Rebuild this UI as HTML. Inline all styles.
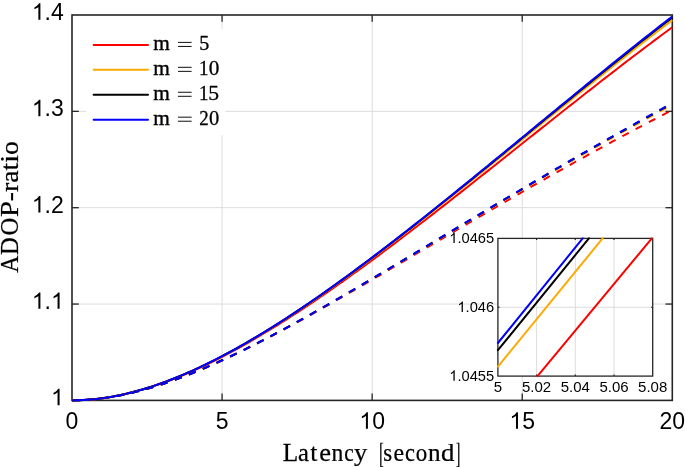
<!DOCTYPE html><html><head><meta charset="utf-8"><style>html,body{margin:0;padding:0;background:#fff;}svg{display:block;will-change:transform;}</style></head><body>
<svg width="685" height="467" viewBox="0 0 685 467">
<rect x="0" y="0" width="685" height="467" fill="#fff"/>
<line x1="222.07" y1="15.00" x2="222.07" y2="400.40" stroke="#dcdcdc" stroke-width="1"/>
<line x1="372.15" y1="15.00" x2="372.15" y2="400.40" stroke="#dcdcdc" stroke-width="1"/>
<line x1="522.22" y1="15.00" x2="522.22" y2="400.40" stroke="#dcdcdc" stroke-width="1"/>
<line x1="72.00" y1="304.05" x2="672.30" y2="304.05" stroke="#dcdcdc" stroke-width="1"/>
<line x1="72.00" y1="207.70" x2="672.30" y2="207.70" stroke="#dcdcdc" stroke-width="1"/>
<line x1="72.00" y1="111.35" x2="672.30" y2="111.35" stroke="#dcdcdc" stroke-width="1"/>
<line x1="222.07" y1="400.40" x2="222.07" y2="393.60" stroke="#262626" stroke-width="1.3"/>
<line x1="222.07" y1="15.00" x2="222.07" y2="21.80" stroke="#262626" stroke-width="1.3"/>
<line x1="372.15" y1="400.40" x2="372.15" y2="393.60" stroke="#262626" stroke-width="1.3"/>
<line x1="372.15" y1="15.00" x2="372.15" y2="21.80" stroke="#262626" stroke-width="1.3"/>
<line x1="522.22" y1="400.40" x2="522.22" y2="393.60" stroke="#262626" stroke-width="1.3"/>
<line x1="522.22" y1="15.00" x2="522.22" y2="21.80" stroke="#262626" stroke-width="1.3"/>
<line x1="72.00" y1="304.05" x2="78.80" y2="304.05" stroke="#262626" stroke-width="1.3"/>
<line x1="672.30" y1="304.05" x2="665.50" y2="304.05" stroke="#262626" stroke-width="1.3"/>
<line x1="72.00" y1="207.70" x2="78.80" y2="207.70" stroke="#262626" stroke-width="1.3"/>
<line x1="672.30" y1="207.70" x2="665.50" y2="207.70" stroke="#262626" stroke-width="1.3"/>
<line x1="72.00" y1="111.35" x2="78.80" y2="111.35" stroke="#262626" stroke-width="1.3"/>
<line x1="672.30" y1="111.35" x2="665.50" y2="111.35" stroke="#262626" stroke-width="1.3"/>
<rect x="72.00" y="15.00" width="600.30" height="385.40" fill="none" stroke="#262626" stroke-width="1.6"/>
<path d="M72.00,400.40 L75.75,400.37 L79.50,400.26 L83.26,400.10 L87.01,399.87 L90.76,399.57 L94.51,399.21 L98.26,398.79 L102.02,398.31 L105.77,397.77 L109.52,397.17 L113.27,396.52 L117.02,395.80 L120.77,395.04 L124.53,394.22 L128.28,393.34 L132.03,392.41 L135.78,391.44 L139.53,390.41 L143.29,389.33 L147.04,388.20 L150.79,387.03 L154.54,385.81 L158.29,384.54 L162.04,383.23 L165.80,381.88 L169.55,380.48 L173.30,379.04 L177.05,377.56 L180.80,376.04 L184.56,374.47 L188.31,372.87 L192.06,371.23 L195.81,369.56 L199.56,367.84 L203.32,366.09 L207.07,364.31 L210.82,362.49 L214.57,360.63 L218.32,358.74 L222.07,356.83 L225.83,354.87 L229.58,352.89 L233.33,350.88 L237.08,348.83 L240.83,346.76 L244.59,344.66 L248.34,342.53 L252.09,340.38 L255.84,338.19 L259.59,335.99 L263.35,333.75 L267.10,331.49 L270.85,329.21 L274.60,326.90 L278.35,324.57 L282.11,322.21 L285.86,319.84 L289.61,317.44 L293.36,315.02 L297.11,312.58 L300.86,310.12 L304.62,307.64 L308.37,305.14 L312.12,302.62 L315.87,300.09 L319.62,297.53 L323.38,294.96 L327.13,292.37 L330.88,289.77 L334.63,287.15 L338.38,284.51 L342.13,281.86 L345.89,279.19 L349.64,276.51 L353.39,273.81 L357.14,271.10 L360.89,268.38 L364.65,265.65 L368.40,262.90 L372.15,260.14 L375.90,257.37 L379.65,254.58 L383.41,251.79 L387.16,248.98 L390.91,246.17 L394.66,243.34 L398.41,240.51 L402.16,237.67 L405.92,234.81 L409.67,231.95 L413.42,229.08 L417.17,226.20 L420.92,223.32 L424.68,220.42 L428.43,217.52 L432.18,214.62 L435.93,211.70 L439.68,208.78 L443.44,205.86 L447.19,202.93 L450.94,199.99 L454.69,197.05 L458.44,194.10 L462.19,191.15 L465.95,188.20 L469.70,185.24 L473.45,182.27 L477.20,179.31 L480.95,176.34 L484.71,173.37 L488.46,170.39 L492.21,167.42 L495.96,164.44 L499.71,161.46 L503.47,158.48 L507.22,155.50 L510.97,152.51 L514.72,149.53 L518.47,146.54 L522.22,143.56 L525.98,140.57 L529.73,137.59 L533.48,134.61 L537.23,131.62 L540.98,128.64 L544.74,125.66 L548.49,122.68 L552.24,119.71 L555.99,116.73 L559.74,113.76 L563.50,110.79 L567.25,107.83 L571.00,104.87 L574.75,101.91 L578.50,98.95 L582.25,96.00 L586.01,93.06 L589.76,90.12 L593.51,87.18 L597.26,84.25 L601.01,81.32 L604.77,78.41 L608.52,75.49 L612.27,72.59 L616.02,69.69 L619.77,66.80 L623.53,63.91 L627.28,61.03 L631.03,58.16 L634.78,55.30 L638.53,52.45 L642.28,49.61 L646.04,46.78 L649.79,43.95 L653.54,41.14 L657.29,38.34 L661.04,35.55 L664.80,32.77 L668.55,30.00 L672.30,27.24" fill="none" stroke="#ff0000" stroke-width="2" stroke-linejoin="round"/>
<path d="M72.00,400.40 L75.75,400.37 L79.50,400.26 L83.26,400.09 L87.01,399.86 L90.76,399.56 L94.51,399.20 L98.26,398.77 L102.02,398.29 L105.77,397.74 L109.52,397.14 L113.27,396.47 L117.02,395.76 L120.77,394.98 L124.53,394.15 L128.28,393.27 L132.03,392.33 L135.78,391.34 L139.53,390.30 L143.29,389.21 L147.04,388.07 L150.79,386.89 L154.54,385.65 L158.29,384.37 L162.04,383.05 L165.80,381.68 L169.55,380.26 L173.30,378.81 L177.05,377.31 L180.80,375.77 L184.56,374.19 L188.31,372.57 L192.06,370.91 L195.81,369.21 L199.56,367.48 L203.32,365.70 L207.07,363.90 L210.82,362.05 L214.57,360.18 L218.32,358.27 L222.07,356.32 L225.83,354.35 L229.58,352.34 L233.33,350.30 L237.08,348.23 L240.83,346.13 L244.59,344.01 L248.34,341.85 L252.09,339.67 L255.84,337.45 L259.59,335.22 L263.35,332.95 L267.10,330.66 L270.85,328.35 L274.60,326.01 L278.35,323.64 L282.11,321.26 L285.86,318.85 L289.61,316.42 L293.36,313.96 L297.11,311.49 L300.86,308.99 L304.62,306.48 L308.37,303.94 L312.12,301.38 L315.87,298.81 L319.62,296.22 L323.38,293.61 L327.13,290.98 L330.88,288.34 L334.63,285.67 L338.38,283.00 L342.13,280.30 L345.89,277.60 L349.64,274.87 L353.39,272.13 L357.14,269.38 L360.89,266.61 L364.65,263.84 L368.40,261.04 L372.15,258.24 L375.90,255.42 L379.65,252.59 L383.41,249.75 L387.16,246.90 L390.91,244.03 L394.66,241.16 L398.41,238.28 L402.16,235.38 L405.92,232.48 L409.67,229.57 L413.42,226.65 L417.17,223.72 L420.92,220.78 L424.68,217.84 L428.43,214.88 L432.18,211.92 L435.93,208.95 L439.68,205.98 L443.44,203.00 L447.19,200.01 L450.94,197.02 L454.69,194.02 L458.44,191.02 L462.19,188.01 L465.95,185.00 L469.70,181.98 L473.45,178.96 L477.20,175.93 L480.95,172.91 L484.71,169.87 L488.46,166.84 L492.21,163.80 L495.96,160.76 L499.71,157.72 L503.47,154.67 L507.22,151.63 L510.97,148.58 L514.72,145.53 L518.47,142.48 L522.22,139.43 L525.98,136.38 L529.73,133.33 L533.48,130.28 L537.23,127.23 L540.98,124.18 L544.74,121.13 L548.49,118.09 L552.24,115.04 L555.99,112.00 L559.74,108.96 L563.50,105.92 L567.25,102.88 L571.00,99.85 L574.75,96.82 L578.50,93.79 L582.25,90.77 L586.01,87.75 L589.76,84.73 L593.51,81.72 L597.26,78.72 L601.01,75.72 L604.77,72.72 L608.52,69.73 L612.27,66.75 L616.02,63.77 L619.77,60.80 L623.53,57.84 L627.28,54.88 L631.03,51.94 L634.78,49.00 L638.53,46.07 L642.28,43.14 L646.04,40.23 L649.79,37.32 L653.54,34.43 L657.29,31.54 L661.04,28.67 L664.80,25.80 L668.55,22.95 L672.30,20.11" fill="none" stroke="#fea900" stroke-width="2" stroke-linejoin="round"/>
<path d="M72.00,400.40 L75.75,400.37 L79.50,400.26 L83.26,400.09 L87.01,399.86 L90.76,399.56 L94.51,399.20 L98.26,398.77 L102.02,398.28 L105.77,397.74 L109.52,397.13 L113.27,396.47 L117.02,395.75 L120.77,394.97 L124.53,394.14 L128.28,393.25 L132.03,392.31 L135.78,391.32 L139.53,390.28 L143.29,389.19 L147.04,388.05 L150.79,386.86 L154.54,385.62 L158.29,384.34 L162.04,383.01 L165.80,381.63 L169.55,380.22 L173.30,378.75 L177.05,377.25 L180.80,375.71 L184.56,374.12 L188.31,372.50 L192.06,370.83 L195.81,369.13 L199.56,367.39 L203.32,365.61 L207.07,363.80 L210.82,361.95 L214.57,360.07 L218.32,358.15 L222.07,356.20 L225.83,354.22 L229.58,352.20 L233.33,350.16 L237.08,348.08 L240.83,345.97 L244.59,343.84 L248.34,341.67 L252.09,339.48 L255.84,337.26 L259.59,335.01 L263.35,332.74 L267.10,330.44 L270.85,328.12 L274.60,325.77 L278.35,323.39 L282.11,321.00 L285.86,318.58 L289.61,316.14 L293.36,313.67 L297.11,311.19 L300.86,308.68 L304.62,306.15 L308.37,303.61 L312.12,301.04 L315.87,298.45 L319.62,295.85 L323.38,293.23 L327.13,290.58 L330.88,287.93 L334.63,285.25 L338.38,282.56 L342.13,279.85 L345.89,277.13 L349.64,274.39 L353.39,271.64 L357.14,268.88 L360.89,266.09 L364.65,263.30 L368.40,260.49 L372.15,257.67 L375.90,254.84 L379.65,251.99 L383.41,249.14 L387.16,246.27 L390.91,243.39 L394.66,240.50 L398.41,237.60 L402.16,234.69 L405.92,231.77 L409.67,228.84 L413.42,225.90 L417.17,222.95 L420.92,219.99 L424.68,217.03 L428.43,214.06 L432.18,211.08 L435.93,208.09 L439.68,205.09 L443.44,202.09 L447.19,199.09 L450.94,196.07 L454.69,193.06 L458.44,190.03 L462.19,187.00 L465.95,183.97 L469.70,180.93 L473.45,177.89 L477.20,174.84 L480.95,171.79 L484.71,168.73 L488.46,165.67 L492.21,162.61 L495.96,159.55 L499.71,156.48 L503.47,153.42 L507.22,150.35 L510.97,147.27 L514.72,144.20 L518.47,141.13 L522.22,138.05 L525.98,134.97 L529.73,131.90 L533.48,128.82 L537.23,125.75 L540.98,122.67 L544.74,119.60 L548.49,116.52 L552.24,113.45 L555.99,110.38 L559.74,107.31 L563.50,104.24 L567.25,101.18 L571.00,98.11 L574.75,95.06 L578.50,92.00 L582.25,88.95 L586.01,85.90 L589.76,82.85 L593.51,79.81 L597.26,76.78 L601.01,73.75 L604.77,70.72 L608.52,67.70 L612.27,64.69 L616.02,61.68 L619.77,58.68 L623.53,55.68 L627.28,52.69 L631.03,49.71 L634.78,46.74 L638.53,43.77 L642.28,40.82 L646.04,37.87 L649.79,34.93 L653.54,32.00 L657.29,29.08 L661.04,26.17 L664.80,23.27 L668.55,20.38 L672.30,17.51" fill="none" stroke="#000000" stroke-width="2" stroke-linejoin="round"/>
<path d="M72.00,400.40 L75.75,400.37 L79.50,400.26 L83.26,400.09 L87.01,399.86 L90.76,399.56 L94.51,399.20 L98.26,398.77 L102.02,398.28 L105.77,397.74 L109.52,397.13 L113.27,396.46 L117.02,395.74 L120.77,394.97 L124.53,394.13 L128.28,393.25 L132.03,392.31 L135.78,391.31 L139.53,390.27 L143.29,389.18 L147.04,388.04 L150.79,386.84 L154.54,385.61 L158.29,384.32 L162.04,382.99 L165.80,381.62 L169.55,380.20 L173.30,378.73 L177.05,377.23 L180.80,375.68 L184.56,374.09 L188.31,372.47 L192.06,370.80 L195.81,369.10 L199.56,367.35 L203.32,365.57 L207.07,363.76 L210.82,361.91 L214.57,360.02 L218.32,358.10 L222.07,356.15 L225.83,354.16 L229.58,352.15 L233.33,350.10 L237.08,348.02 L240.83,345.91 L244.59,343.77 L248.34,341.60 L252.09,339.41 L255.84,337.18 L259.59,334.93 L263.35,332.65 L267.10,330.35 L270.85,328.02 L274.60,325.67 L278.35,323.29 L282.11,320.89 L285.86,318.47 L289.61,316.02 L293.36,313.55 L297.11,311.06 L300.86,308.55 L304.62,306.02 L308.37,303.47 L312.12,300.90 L315.87,298.31 L319.62,295.70 L323.38,293.07 L327.13,290.42 L330.88,287.76 L334.63,285.08 L338.38,282.38 L342.13,279.67 L345.89,276.94 L349.64,274.20 L353.39,271.44 L357.14,268.67 L360.89,265.88 L364.65,263.08 L368.40,260.27 L372.15,257.44 L375.90,254.60 L379.65,251.75 L383.41,248.89 L387.16,246.01 L390.91,243.12 L394.66,240.23 L398.41,237.32 L402.16,234.40 L405.92,231.47 L409.67,228.54 L413.42,225.59 L417.17,222.63 L420.92,219.67 L424.68,216.70 L428.43,213.72 L432.18,210.73 L435.93,207.74 L439.68,204.73 L443.44,201.73 L447.19,198.71 L450.94,195.69 L454.69,192.66 L458.44,189.63 L462.19,186.59 L465.95,183.55 L469.70,180.50 L473.45,177.45 L477.20,174.39 L480.95,171.33 L484.71,168.27 L488.46,165.20 L492.21,162.13 L495.96,159.06 L499.71,155.98 L503.47,152.90 L507.22,149.82 L510.97,146.74 L514.72,143.66 L518.47,140.57 L522.22,137.49 L525.98,134.40 L529.73,131.31 L533.48,128.23 L537.23,125.14 L540.98,122.05 L544.74,118.97 L548.49,115.88 L552.24,112.80 L555.99,109.72 L559.74,106.64 L563.50,103.56 L567.25,100.48 L571.00,97.41 L574.75,94.34 L578.50,91.27 L582.25,88.21 L586.01,85.15 L589.76,82.09 L593.51,79.04 L597.26,75.99 L601.01,72.94 L604.77,69.91 L608.52,66.87 L612.27,63.85 L616.02,60.82 L619.77,57.81 L623.53,54.80 L627.28,51.80 L631.03,48.81 L634.78,45.82 L638.53,42.84 L642.28,39.87 L646.04,36.91 L649.79,33.96 L653.54,31.01 L657.29,28.08 L661.04,25.16 L664.80,22.24 L668.55,19.34 L672.30,16.45" fill="none" stroke="#0000ff" stroke-width="2" stroke-linejoin="round"/>
<path d="M72.00,400.40 L75.75,400.37 L79.50,400.27 L83.26,400.11 L87.01,399.88 L90.76,399.60 L94.51,399.25 L98.26,398.85 L102.02,398.38 L105.77,397.87 L109.52,397.30 L113.27,396.67 L117.02,395.99 L120.77,395.27 L124.53,394.49 L128.28,393.66 L132.03,392.79 L135.78,391.87 L139.53,390.91 L143.29,389.90 L147.04,388.85 L150.79,387.76 L154.54,386.63 L158.29,385.46 L162.04,384.25 L165.80,383.00 L169.55,381.71 L173.30,380.39 L177.05,379.04 L180.80,377.65 L184.56,376.23 L188.31,374.78 L192.06,373.29 L195.81,371.78 L199.56,370.24 L203.32,368.66 L207.07,367.07 L210.82,365.44 L214.57,363.79 L218.32,362.11 L222.07,360.41 L225.83,358.69 L229.58,356.94 L233.33,355.17 L237.08,353.38 L240.83,351.57 L244.59,349.74 L248.34,347.89 L252.09,346.02 L255.84,344.13 L259.59,342.23 L263.35,340.31 L267.10,338.37 L270.85,336.42 L274.60,334.45 L278.35,332.47 L282.11,330.47 L285.86,328.46 L289.61,326.44 L293.36,324.41 L297.11,322.36 L300.86,320.30 L304.62,318.23 L308.37,316.16 L312.12,314.07 L315.87,311.97 L319.62,309.87 L323.38,307.75 L327.13,305.63 L330.88,303.50 L334.63,301.36 L338.38,299.22 L342.13,297.07 L345.89,294.91 L349.64,292.75 L353.39,290.58 L357.14,288.41 L360.89,286.24 L364.65,284.06 L368.40,281.87 L372.15,279.68 L375.90,277.49 L379.65,275.30 L383.41,273.10 L387.16,270.90 L390.91,268.70 L394.66,266.49 L398.41,264.29 L402.16,262.08 L405.92,259.87 L409.67,257.66 L413.42,255.45 L417.17,253.24 L420.92,251.03 L424.68,248.82 L428.43,246.61 L432.18,244.40 L435.93,242.20 L439.68,239.99 L443.44,237.78 L447.19,235.57 L450.94,233.37 L454.69,231.17 L458.44,228.96 L462.19,226.76 L465.95,224.57 L469.70,222.37 L473.45,220.18 L477.20,217.99 L480.95,215.80 L484.71,213.61 L488.46,211.43 L492.21,209.25 L495.96,207.07 L499.71,204.90 L503.47,202.73 L507.22,200.56 L510.97,198.40 L514.72,196.24 L518.47,194.08 L522.22,191.93 L525.98,189.78 L529.73,187.63 L533.48,185.49 L537.23,183.36 L540.98,181.23 L544.74,179.10 L548.49,176.98 L552.24,174.86 L555.99,172.74 L559.74,170.63 L563.50,168.53 L567.25,166.43 L571.00,164.34 L574.75,162.25 L578.50,160.17 L582.25,158.09 L586.01,156.02 L589.76,153.95 L593.51,151.89 L597.26,149.83 L601.01,147.78 L604.77,145.74 L608.52,143.70 L612.27,141.67 L616.02,139.64 L619.77,137.62 L623.53,135.61 L627.28,133.60 L631.03,131.60 L634.78,129.61 L638.53,127.62 L642.28,125.64 L646.04,123.67 L649.79,121.70 L653.54,119.74 L657.29,117.79 L661.04,115.85 L664.80,113.91 L668.55,111.98 L672.30,110.06" fill="none" stroke="#ff0000" stroke-width="2" stroke-dasharray="7.3 7.7" stroke-dashoffset="-0.4"/>
<path d="M72.00,400.40 L75.75,400.37 L79.50,400.27 L83.26,400.11 L87.01,399.88 L90.76,399.59 L94.51,399.25 L98.26,398.84 L102.02,398.38 L105.77,397.87 L109.52,397.29 L113.27,396.67 L117.02,395.99 L120.77,395.26 L124.53,394.48 L128.28,393.66 L132.03,392.78 L135.78,391.86 L139.53,390.90 L143.29,389.89 L147.04,388.84 L150.79,387.74 L154.54,386.61 L158.29,385.43 L162.04,384.22 L165.80,382.97 L169.55,381.68 L173.30,380.35 L177.05,379.00 L180.80,377.60 L184.56,376.18 L188.31,374.72 L192.06,373.23 L195.81,371.71 L199.56,370.16 L203.32,368.59 L207.07,366.98 L210.82,365.35 L214.57,363.69 L218.32,362.01 L222.07,360.30 L225.83,358.56 L229.58,356.81 L233.33,355.03 L237.08,353.23 L240.83,351.41 L244.59,349.57 L248.34,347.71 L252.09,345.83 L255.84,343.93 L259.59,342.02 L263.35,340.08 L267.10,338.13 L270.85,336.17 L274.60,334.19 L278.35,332.19 L282.11,330.18 L285.86,328.16 L289.61,326.12 L293.36,324.07 L297.11,322.01 L300.86,319.94 L304.62,317.85 L308.37,315.76 L312.12,313.65 L315.87,311.54 L319.62,309.41 L323.38,307.28 L327.13,305.14 L330.88,302.99 L334.63,300.83 L338.38,298.67 L342.13,296.49 L345.89,294.32 L349.64,292.13 L353.39,289.94 L357.14,287.75 L360.89,285.55 L364.65,283.34 L368.40,281.13 L372.15,278.92 L375.90,276.70 L379.65,274.48 L383.41,272.25 L387.16,270.02 L390.91,267.79 L394.66,265.56 L398.41,263.32 L402.16,261.09 L405.92,258.85 L409.67,256.61 L413.42,254.36 L417.17,252.12 L420.92,249.88 L424.68,247.63 L428.43,245.39 L432.18,243.14 L435.93,240.90 L439.68,238.65 L443.44,236.41 L447.19,234.16 L450.94,231.92 L454.69,229.67 L458.44,227.43 L462.19,225.19 L465.95,222.95 L469.70,220.71 L473.45,218.48 L477.20,216.24 L480.95,214.01 L484.71,211.78 L488.46,209.55 L492.21,207.32 L495.96,205.10 L499.71,202.87 L503.47,200.66 L507.22,198.44 L510.97,196.22 L514.72,194.01 L518.47,191.80 L522.22,189.60 L525.98,187.40 L529.73,185.20 L533.48,183.00 L537.23,180.81 L540.98,178.62 L544.74,176.44 L548.49,174.26 L552.24,172.08 L555.99,169.91 L559.74,167.74 L563.50,165.57 L567.25,163.41 L571.00,161.26 L574.75,159.10 L578.50,156.95 L582.25,154.81 L586.01,152.67 L589.76,150.54 L593.51,148.41 L597.26,146.28 L601.01,144.16 L604.77,142.05 L608.52,139.94 L612.27,137.84 L616.02,135.74 L619.77,133.64 L623.53,131.55 L627.28,129.47 L631.03,127.39 L634.78,125.32 L638.53,123.26 L642.28,121.20 L646.04,119.15 L649.79,117.10 L653.54,115.06 L657.29,113.02 L661.04,111.00 L664.80,108.98 L668.55,106.96 L672.30,104.96" fill="none" stroke="#fea900" stroke-width="2" stroke-dasharray="7.3 7.7" stroke-dashoffset="-0.4"/>
<path d="M72.00,400.40 L75.75,400.37 L79.50,400.27 L83.26,400.11 L87.01,399.88 L90.76,399.59 L94.51,399.25 L98.26,398.84 L102.02,398.38 L105.77,397.87 L109.52,397.29 L113.27,396.67 L117.02,395.99 L120.77,395.26 L124.53,394.48 L128.28,393.66 L132.03,392.78 L135.78,391.86 L139.53,390.90 L143.29,389.89 L147.04,388.83 L150.79,387.74 L154.54,386.60 L158.29,385.43 L162.04,384.21 L165.80,382.96 L169.55,381.67 L173.30,380.35 L177.05,378.99 L180.80,377.59 L184.56,376.17 L188.31,374.71 L192.06,373.22 L195.81,371.70 L199.56,370.15 L203.32,368.57 L207.07,366.96 L210.82,365.33 L214.57,363.67 L218.32,361.99 L222.07,360.28 L225.83,358.54 L229.58,356.79 L233.33,355.01 L237.08,353.20 L240.83,351.38 L244.59,349.54 L248.34,347.68 L252.09,345.79 L255.84,343.89 L259.59,341.97 L263.35,340.04 L267.10,338.09 L270.85,336.12 L274.60,334.14 L278.35,332.14 L282.11,330.12 L285.86,328.10 L289.61,326.06 L293.36,324.00 L297.11,321.94 L300.86,319.86 L304.62,317.77 L308.37,315.68 L312.12,313.57 L315.87,311.45 L319.62,309.32 L323.38,307.18 L327.13,305.03 L330.88,302.88 L334.63,300.72 L338.38,298.55 L342.13,296.37 L345.89,294.19 L349.64,292.00 L353.39,289.80 L357.14,287.60 L360.89,285.40 L364.65,283.18 L368.40,280.97 L372.15,278.75 L375.90,276.52 L379.65,274.29 L383.41,272.06 L387.16,269.83 L390.91,267.59 L394.66,265.35 L398.41,263.11 L402.16,260.86 L405.92,258.61 L409.67,256.37 L413.42,254.11 L417.17,251.86 L420.92,249.61 L424.68,247.36 L428.43,245.10 L432.18,242.85 L435.93,240.59 L439.68,238.34 L443.44,236.09 L447.19,233.83 L450.94,231.58 L454.69,229.32 L458.44,227.07 L462.19,224.82 L465.95,222.57 L469.70,220.32 L473.45,218.07 L477.20,215.83 L480.95,213.58 L484.71,211.34 L488.46,209.10 L492.21,206.86 L495.96,204.62 L499.71,202.39 L503.47,200.15 L507.22,197.92 L510.97,195.70 L514.72,193.47 L518.47,191.25 L522.22,189.03 L525.98,186.81 L529.73,184.60 L533.48,182.39 L537.23,180.18 L540.98,177.98 L544.74,175.78 L548.49,173.58 L552.24,171.39 L555.99,169.20 L559.74,167.01 L563.50,164.83 L567.25,162.65 L571.00,160.48 L574.75,158.31 L578.50,156.14 L582.25,153.98 L586.01,151.83 L589.76,149.67 L593.51,147.52 L597.26,145.38 L601.01,143.24 L604.77,141.11 L608.52,138.98 L612.27,136.85 L616.02,134.73 L619.77,132.62 L623.53,130.51 L627.28,128.40 L631.03,126.31 L634.78,124.21 L638.53,122.12 L642.28,120.04 L646.04,117.97 L649.79,115.90 L653.54,113.83 L657.29,111.77 L661.04,109.72 L664.80,107.68 L668.55,105.64 L672.30,103.61" fill="none" stroke="#000000" stroke-width="2" stroke-dasharray="7.3 7.7" stroke-dashoffset="-0.4"/>
<path d="M72.00,400.40 L75.75,400.37 L79.50,400.27 L83.26,400.11 L87.01,399.88 L90.76,399.59 L94.51,399.25 L98.26,398.84 L102.02,398.38 L105.77,397.87 L109.52,397.29 L113.27,396.67 L117.02,395.99 L120.77,395.26 L124.53,394.48 L128.28,393.66 L132.03,392.78 L135.78,391.86 L139.53,390.89 L143.29,389.88 L147.04,388.83 L150.79,387.74 L154.54,386.60 L158.29,385.43 L162.04,384.21 L165.80,382.96 L169.55,381.67 L173.30,380.35 L177.05,378.99 L180.80,377.59 L184.56,376.16 L188.31,374.71 L192.06,373.22 L195.81,371.70 L199.56,370.14 L203.32,368.57 L207.07,366.96 L210.82,365.33 L214.57,363.66 L218.32,361.98 L222.07,360.27 L225.83,358.53 L229.58,356.78 L233.33,355.00 L237.08,353.19 L240.83,351.37 L244.59,349.53 L248.34,347.66 L252.09,345.78 L255.84,343.88 L259.59,341.96 L263.35,340.02 L267.10,338.07 L270.85,336.10 L274.60,334.12 L278.35,332.12 L282.11,330.10 L285.86,328.08 L289.61,326.03 L293.36,323.98 L297.11,321.91 L300.86,319.84 L304.62,317.75 L308.37,315.65 L312.12,313.54 L315.87,311.42 L319.62,309.29 L323.38,307.15 L327.13,305.00 L330.88,302.84 L334.63,300.68 L338.38,298.51 L342.13,296.33 L345.89,294.14 L349.64,291.95 L353.39,289.75 L357.14,287.55 L360.89,285.34 L364.65,283.13 L368.40,280.91 L372.15,278.69 L375.90,276.46 L379.65,274.23 L383.41,271.99 L387.16,269.76 L390.91,267.52 L394.66,265.27 L398.41,263.03 L402.16,260.78 L405.92,258.53 L409.67,256.28 L413.42,254.03 L417.17,251.77 L420.92,249.52 L424.68,247.26 L428.43,245.00 L432.18,242.75 L435.93,240.49 L439.68,238.23 L443.44,235.97 L447.19,233.71 L450.94,231.46 L454.69,229.20 L458.44,226.94 L462.19,224.69 L465.95,222.43 L469.70,220.18 L473.45,217.93 L477.20,215.68 L480.95,213.43 L484.71,211.18 L488.46,208.94 L492.21,206.69 L495.96,204.45 L499.71,202.21 L503.47,199.98 L507.22,197.74 L510.97,195.51 L514.72,193.28 L518.47,191.05 L522.22,188.83 L525.98,186.61 L529.73,184.39 L533.48,182.17 L537.23,179.96 L540.98,177.75 L544.74,175.54 L548.49,173.34 L552.24,171.14 L555.99,168.95 L559.74,166.76 L563.50,164.57 L567.25,162.38 L571.00,160.20 L574.75,158.03 L578.50,155.86 L582.25,153.69 L586.01,151.52 L589.76,149.36 L593.51,147.21 L597.26,145.06 L601.01,142.91 L604.77,140.77 L608.52,138.63 L612.27,136.50 L616.02,134.37 L619.77,132.25 L623.53,130.13 L627.28,128.02 L631.03,125.92 L634.78,123.81 L638.53,121.72 L642.28,119.63 L646.04,117.55 L649.79,115.47 L653.54,113.39 L657.29,111.33 L661.04,109.27 L664.80,107.21 L668.55,105.17 L672.30,103.13" fill="none" stroke="#0000ff" stroke-width="2" stroke-dasharray="7.3 7.7" stroke-dashoffset="-0.4"/>
<text x="65.60" y="428.70" font-family="Liberation Sans" font-size="23.00" fill="#000">0</text>
<text x="215.68" y="428.70" font-family="Liberation Sans" font-size="23.00" fill="#000">5</text>
<path d="M763 0 L583 0 L583 1147 C540 1106 483 1064 413 1023 C343 982 280 951 225 930 L225 1104 C324 1151 410 1207 484 1273 C558 1339 610 1403 640 1466 L763 1466 Z" transform="translate(359.36,428.70) scale(0.01123,-0.01123)" fill="#000"/>
<text x="372.15" y="428.70" font-family="Liberation Sans" font-size="23.00" fill="#000">0</text>
<path d="M763 0 L583 0 L583 1147 C540 1106 483 1064 413 1023 C343 982 280 951 225 930 L225 1104 C324 1151 410 1207 484 1273 C558 1339 610 1403 640 1466 L763 1466 Z" transform="translate(509.43,428.70) scale(0.01123,-0.01123)" fill="#000"/>
<text x="522.22" y="428.70" font-family="Liberation Sans" font-size="23.00" fill="#000">5</text>
<text x="659.51" y="428.70" font-family="Liberation Sans" font-size="23.00" fill="#000">20</text>
<path d="M763 0 L583 0 L583 1147 C540 1106 483 1064 413 1023 C343 982 280 951 225 930 L225 1104 C324 1151 410 1207 484 1273 C558 1339 610 1403 640 1466 L763 1466 Z" transform="translate(51.01,405.20) scale(0.01123,-0.01123)" fill="#000"/>
<path d="M763 0 L583 0 L583 1147 C540 1106 483 1064 413 1023 C343 982 280 951 225 930 L225 1104 C324 1151 410 1207 484 1273 C558 1339 610 1403 640 1466 L763 1466 Z" transform="translate(31.83,308.85) scale(0.01123,-0.01123)" fill="#000"/>
<text x="44.62" y="308.85" font-family="Liberation Sans" font-size="23.00" fill="#000">.</text>
<path d="M763 0 L583 0 L583 1147 C540 1106 483 1064 413 1023 C343 982 280 951 225 930 L225 1104 C324 1151 410 1207 484 1273 C558 1339 610 1403 640 1466 L763 1466 Z" transform="translate(51.01,308.85) scale(0.01123,-0.01123)" fill="#000"/>
<path d="M763 0 L583 0 L583 1147 C540 1106 483 1064 413 1023 C343 982 280 951 225 930 L225 1104 C324 1151 410 1207 484 1273 C558 1339 610 1403 640 1466 L763 1466 Z" transform="translate(31.83,212.50) scale(0.01123,-0.01123)" fill="#000"/>
<text x="44.62" y="212.50" font-family="Liberation Sans" font-size="23.00" fill="#000">.2</text>
<path d="M763 0 L583 0 L583 1147 C540 1106 483 1064 413 1023 C343 982 280 951 225 930 L225 1104 C324 1151 410 1207 484 1273 C558 1339 610 1403 640 1466 L763 1466 Z" transform="translate(31.83,116.15) scale(0.01123,-0.01123)" fill="#000"/>
<text x="44.62" y="116.15" font-family="Liberation Sans" font-size="23.00" fill="#000">.3</text>
<path d="M763 0 L583 0 L583 1147 C540 1106 483 1064 413 1023 C343 982 280 951 225 930 L225 1104 C324 1151 410 1207 484 1273 C558 1339 610 1403 640 1466 L763 1466 Z" transform="translate(31.83,19.80) scale(0.01123,-0.01123)" fill="#000"/>
<text x="44.62" y="19.80" font-family="Liberation Sans" font-size="23.00" fill="#000">.4</text>
<path d="M380.2 442.7 h3.0 v0.8 h-1.75 v22.8 h1.75 v0.8 h-3.0 Z" fill="#000"/>
<path d="M459.4 442.7 h-3.0 v0.8 h1.75 v22.8 h-1.75 v0.8 h3.0 Z" fill="#000"/>
<text transform="translate(282.77,460.60) scale(1.0322,1)" font-family="Liberation Serif" font-size="24.50" fill="#000" stroke="#000" stroke-width="0.25">L</text>
<text transform="translate(297.94,460.60) scale(1.0023,1)" font-family="Liberation Serif" font-size="24.50" fill="#000" stroke="#000" stroke-width="0.25">a</text>
<text transform="translate(310.35,460.60) scale(1.0430,1)" font-family="Liberation Serif" font-size="24.50" fill="#000" stroke="#000" stroke-width="0.25">t</text>
<text transform="translate(319.17,460.60) scale(1.0807,1)" font-family="Liberation Serif" font-size="24.50" fill="#000" stroke="#000" stroke-width="0.25">e</text>
<text transform="translate(331.46,460.60) scale(0.9632,1)" font-family="Liberation Serif" font-size="24.50" fill="#000" stroke="#000" stroke-width="0.25">n</text>
<text transform="translate(344.19,460.60) scale(0.8707,1)" font-family="Liberation Serif" font-size="24.50" fill="#000" stroke="#000" stroke-width="0.25">c</text>
<text transform="translate(353.88,460.60) scale(1.0797,1)" font-family="Liberation Serif" font-size="24.50" fill="#000" stroke="#000" stroke-width="0.25">y</text>
<text transform="translate(383.37,460.60) scale(0.9288,1)" font-family="Liberation Serif" font-size="24.50" fill="#000" stroke="#000" stroke-width="0.25">s</text>
<text transform="translate(393.47,460.60) scale(0.9705,1)" font-family="Liberation Serif" font-size="24.50" fill="#000" stroke="#000" stroke-width="0.25">e</text>
<text transform="translate(404.95,460.60) scale(0.9143,1)" font-family="Liberation Serif" font-size="24.50" fill="#000" stroke="#000" stroke-width="0.25">c</text>
<text transform="translate(415.83,460.60) scale(0.9341,1)" font-family="Liberation Serif" font-size="24.50" fill="#000" stroke="#000" stroke-width="0.25">o</text>
<text transform="translate(428.02,460.60) scale(1.0250,1)" font-family="Liberation Serif" font-size="24.50" fill="#000" stroke="#000" stroke-width="0.25">n</text>
<text transform="translate(441.03,460.60) scale(1.0935,1)" font-family="Liberation Serif" font-size="24.50" fill="#000" stroke="#000" stroke-width="0.25">d</text>
<g transform="translate(17.7,273.30) rotate(-90)">
<text transform="translate(0.47,0.00) scale(0.9725,1)" font-family="Liberation Serif" font-size="24.50" fill="#000" stroke="#000" stroke-width="0.25">A</text>
<text transform="translate(18.29,0.00) scale(0.9996,1)" font-family="Liberation Serif" font-size="24.50" fill="#000" stroke="#000" stroke-width="0.25">D</text>
<text transform="translate(37.79,0.00) scale(1.0074,1)" font-family="Liberation Serif" font-size="24.50" fill="#000" stroke="#000" stroke-width="0.25">O</text>
<text transform="translate(56.27,0.00) scale(1.1726,1)" font-family="Liberation Serif" font-size="24.50" fill="#000" stroke="#000" stroke-width="0.25">P</text>
</g>
<text transform="translate(17.7,141.2) rotate(-90)" x="0" y="0" font-family="Liberation Serif, serif" font-size="25" text-anchor="end" textLength="60" lengthAdjust="spacingAndGlyphs" fill="#000" stroke="#000" stroke-width="0.25">-ratio</text>
<rect x="86.2" y="29.2" width="139.2" height="106" fill="#fff"/>
<line x1="93.6" y1="44.94" x2="148.0" y2="44.94" stroke="#ff0000" stroke-width="2" stroke-linecap="round"/>
<text transform="translate(153.35,49.79) scale(1.0658,1)" font-family="Liberation Serif" font-size="20.00" fill="#000" stroke="#000" stroke-width="0.35">m</text>
<line x1="178.0" y1="42.39" x2="191.6" y2="42.39" stroke="#000" stroke-width="0.95"/>
<line x1="178.0" y1="46.44" x2="191.6" y2="46.44" stroke="#000" stroke-width="0.95"/>
<text transform="translate(199.13,49.79) scale(1.0054,1)" font-family="Liberation Serif" font-size="20.00" fill="#000" stroke="#000" stroke-width="0.3">5</text>
<line x1="93.6" y1="69.87" x2="148.0" y2="69.87" stroke="#fea900" stroke-width="2" stroke-linecap="round"/>
<text transform="translate(153.35,74.72) scale(1.0658,1)" font-family="Liberation Serif" font-size="20.00" fill="#000" stroke="#000" stroke-width="0.35">m</text>
<line x1="178.0" y1="67.32" x2="191.6" y2="67.32" stroke="#000" stroke-width="0.95"/>
<line x1="178.0" y1="71.37" x2="191.6" y2="71.37" stroke="#000" stroke-width="0.95"/>
<text transform="translate(198.93,74.72) scale(0.9516,1)" font-family="Liberation Serif" font-size="20.00" fill="#000" stroke="#000" stroke-width="0.3">1</text>
<text transform="translate(208.79,74.72) scale(1.0618,1)" font-family="Liberation Serif" font-size="20.00" fill="#000" stroke="#000" stroke-width="0.3">0</text>
<line x1="93.6" y1="94.80" x2="148.0" y2="94.80" stroke="#000000" stroke-width="2" stroke-linecap="round"/>
<text transform="translate(153.35,99.65) scale(1.0658,1)" font-family="Liberation Serif" font-size="20.00" fill="#000" stroke="#000" stroke-width="0.35">m</text>
<line x1="178.0" y1="92.25" x2="191.6" y2="92.25" stroke="#000" stroke-width="0.95"/>
<line x1="178.0" y1="96.30" x2="191.6" y2="96.30" stroke="#000" stroke-width="0.95"/>
<text transform="translate(198.93,99.65) scale(0.9516,1)" font-family="Liberation Serif" font-size="20.00" fill="#000" stroke="#000" stroke-width="0.3">1</text>
<text transform="translate(208.35,99.65) scale(1.0799,1)" font-family="Liberation Serif" font-size="20.00" fill="#000" stroke="#000" stroke-width="0.3">5</text>
<line x1="93.6" y1="119.73" x2="148.0" y2="119.73" stroke="#0000ff" stroke-width="2" stroke-linecap="round"/>
<text transform="translate(153.35,124.58) scale(1.0658,1)" font-family="Liberation Serif" font-size="20.00" fill="#000" stroke="#000" stroke-width="0.35">m</text>
<line x1="178.0" y1="117.18" x2="191.6" y2="117.18" stroke="#000" stroke-width="0.95"/>
<line x1="178.0" y1="121.23" x2="191.6" y2="121.23" stroke="#000" stroke-width="0.95"/>
<text transform="translate(199.37,124.58) scale(0.9479,1)" font-family="Liberation Serif" font-size="20.00" fill="#000" stroke="#000" stroke-width="0.3">2</text>
<text transform="translate(209.12,124.58) scale(1.0264,1)" font-family="Liberation Serif" font-size="20.00" fill="#000" stroke="#000" stroke-width="0.3">0</text>
<rect x="497.90" y="238.40" width="154.80" height="137.70" fill="#fff"/>
<line x1="536.60" y1="238.40" x2="536.60" y2="376.10" stroke="#dcdcdc" stroke-width="1"/>
<line x1="575.30" y1="238.40" x2="575.30" y2="376.10" stroke="#dcdcdc" stroke-width="1"/>
<line x1="614.00" y1="238.40" x2="614.00" y2="376.10" stroke="#dcdcdc" stroke-width="1"/>
<line x1="497.90" y1="307.25" x2="652.70" y2="307.25" stroke="#dcdcdc" stroke-width="1"/>
<line x1="536.60" y1="376.10" x2="536.60" y2="374.50" stroke="#262626" stroke-width="1.2"/>
<line x1="536.60" y1="238.40" x2="536.60" y2="240.00" stroke="#262626" stroke-width="1.2"/>
<line x1="575.30" y1="376.10" x2="575.30" y2="374.50" stroke="#262626" stroke-width="1.2"/>
<line x1="575.30" y1="238.40" x2="575.30" y2="240.00" stroke="#262626" stroke-width="1.2"/>
<line x1="614.00" y1="376.10" x2="614.00" y2="374.50" stroke="#262626" stroke-width="1.2"/>
<line x1="614.00" y1="238.40" x2="614.00" y2="240.00" stroke="#262626" stroke-width="1.2"/>
<line x1="497.90" y1="307.25" x2="499.50" y2="307.25" stroke="#262626" stroke-width="1.2"/>
<line x1="652.70" y1="307.25" x2="651.10" y2="307.25" stroke="#262626" stroke-width="1.2"/>
<rect x="497.90" y="238.40" width="154.80" height="137.70" fill="none" stroke="#262626" stroke-width="1.3"/>
<line x1="537.51" y1="376.10" x2="651.80" y2="238.40" stroke="#ff0000" stroke-width="2" stroke-linecap="round"/>
<line x1="497.90" y1="366.60" x2="602.58" y2="238.40" stroke="#fea900" stroke-width="2" stroke-linecap="round"/>
<line x1="497.90" y1="350.21" x2="588.88" y2="238.40" stroke="#000000" stroke-width="2" stroke-linecap="round"/>
<line x1="497.90" y1="343.00" x2="582.67" y2="238.40" stroke="#0000ff" stroke-width="2" stroke-linecap="round"/>
<text x="493.73" y="392.00" font-family="Liberation Sans" font-size="15.00" fill="#000">5</text>
<text x="522.00" y="392.00" font-family="Liberation Sans" font-size="15.00" fill="#000">5.02</text>
<text x="560.70" y="392.00" font-family="Liberation Sans" font-size="15.00" fill="#000">5.04</text>
<text x="599.40" y="392.00" font-family="Liberation Sans" font-size="15.00" fill="#000">5.06</text>
<text x="638.10" y="392.00" font-family="Liberation Sans" font-size="15.00" fill="#000">5.08</text>
<path d="M763 0 L583 0 L583 1147 C540 1106 483 1064 413 1023 C343 982 280 951 225 930 L225 1104 C324 1151 410 1207 484 1273 C558 1339 610 1403 640 1466 L763 1466 Z" transform="translate(449.24,380.80) scale(0.00718,-0.00718)" fill="#000"/>
<text x="457.41" y="380.80" font-family="Liberation Sans" font-size="14.70" fill="#000">.0455</text>
<path d="M763 0 L583 0 L583 1147 C540 1106 483 1064 413 1023 C343 982 280 951 225 930 L225 1104 C324 1151 410 1207 484 1273 C558 1339 610 1403 640 1466 L763 1466 Z" transform="translate(457.41,311.95) scale(0.00718,-0.00718)" fill="#000"/>
<text x="465.59" y="311.95" font-family="Liberation Sans" font-size="14.70" fill="#000">.046</text>
<path d="M763 0 L583 0 L583 1147 C540 1106 483 1064 413 1023 C343 982 280 951 225 930 L225 1104 C324 1151 410 1207 484 1273 C558 1339 610 1403 640 1466 L763 1466 Z" transform="translate(449.24,243.10) scale(0.00718,-0.00718)" fill="#000"/>
<text x="457.41" y="243.10" font-family="Liberation Sans" font-size="14.70" fill="#000">.0465</text>
</svg></body></html>
